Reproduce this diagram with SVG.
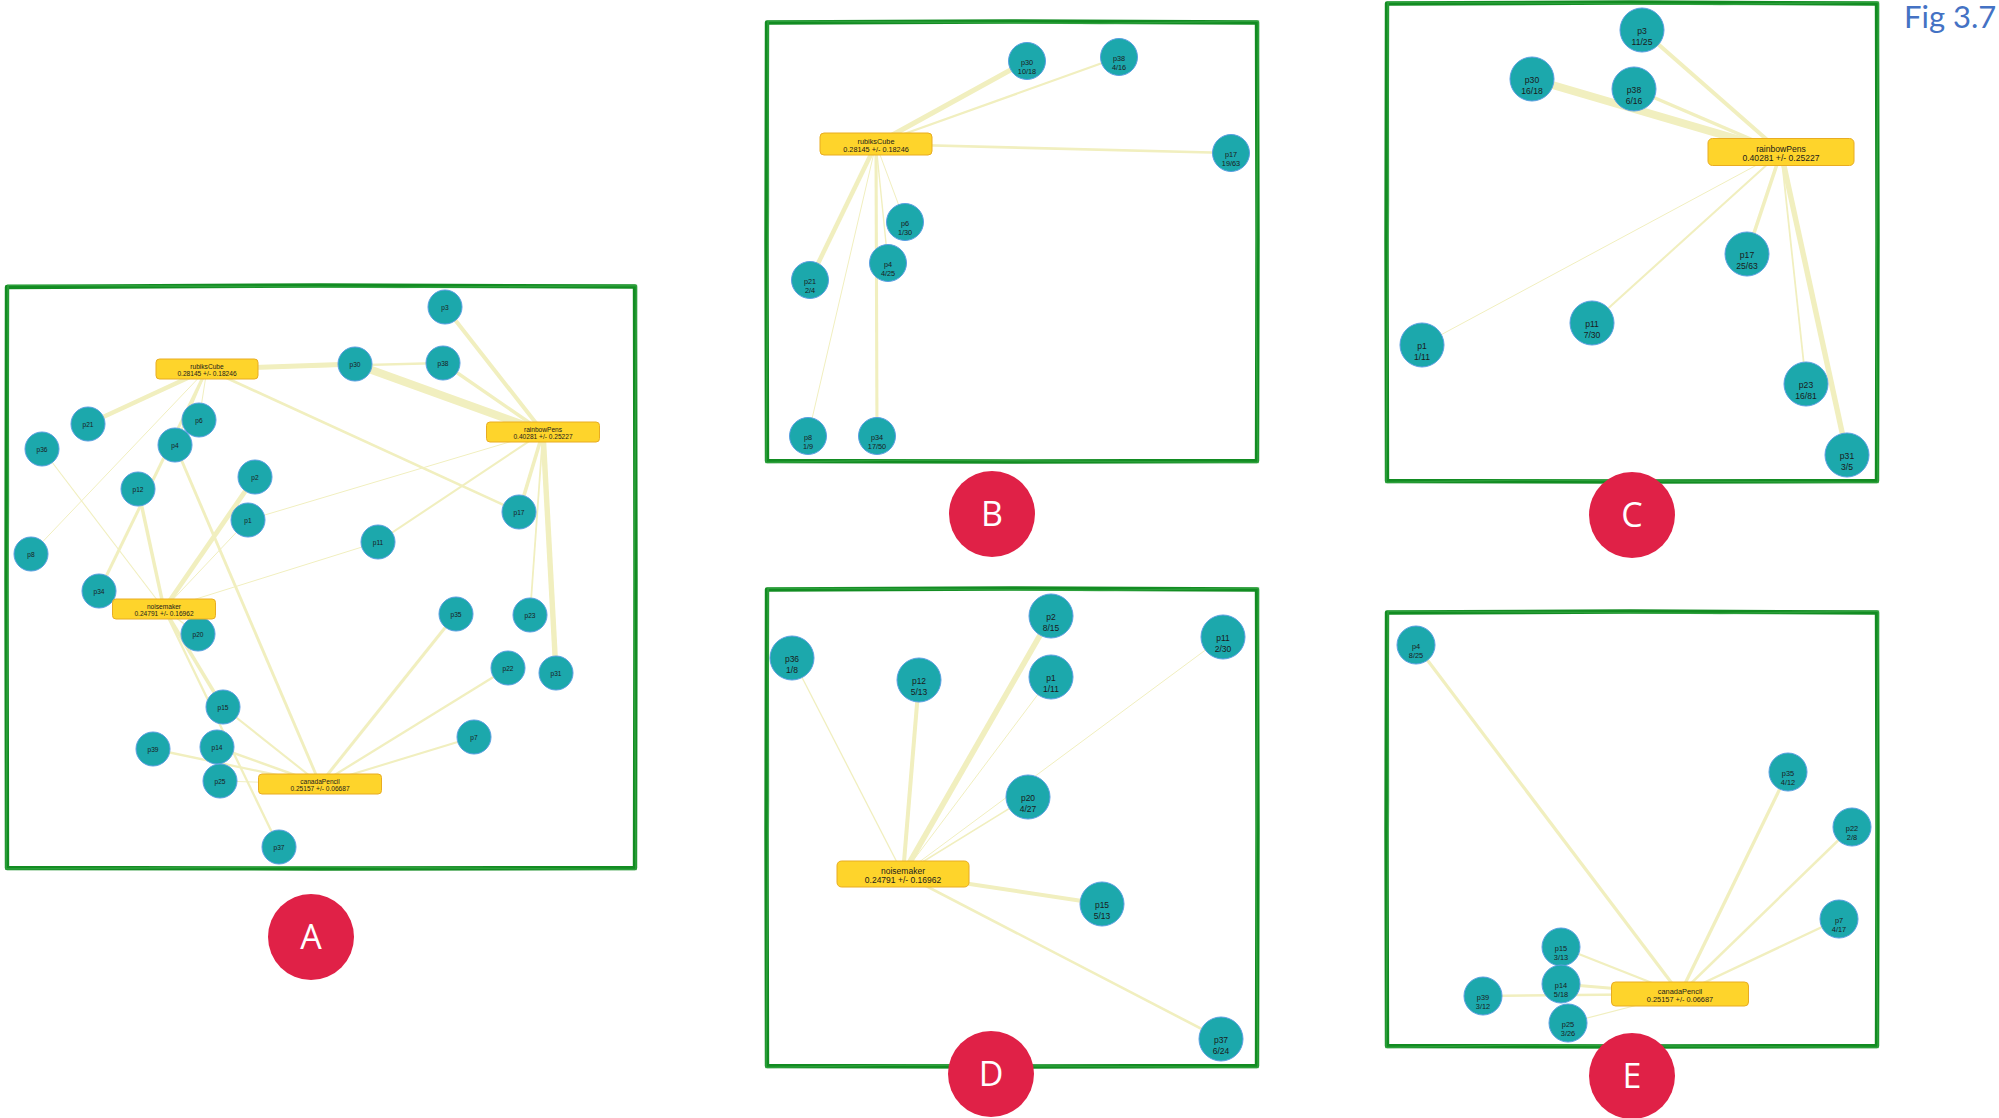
<svg xmlns="http://www.w3.org/2000/svg" width="1999" height="1118" viewBox="0 0 1999 1118">
<style>
.bg{fill:#ffffff}
.edge line{stroke:#F1EFBF;stroke-linecap:butt;fill:none}
.node circle{fill:#1CA8AC;stroke:#5A9FE2;stroke-width:1}
.task rect{fill:#FED42B;stroke:#E8AC22;stroke-width:1}
text{font-family:"Liberation Sans",Arial,sans-serif;fill:#1b1b1b;text-anchor:middle}
.frame path.m{fill:none;stroke:#128C22;stroke-width:4.4;stroke-linejoin:round}
.frame path.s{fill:none;stroke:#3FAE4E;stroke-width:1.6;opacity:0.55}
.badge circle{fill:#E02147}
.badge text{font-family:"Open Sans","Liberation Sans",sans-serif;fill:#ffffff;font-size:34px}
.fig{font-family:Lato,"Open Sans",sans-serif;fill:#4472C4;font-size:31px;text-anchor:start}
.fA{font-size:6.6px}.fB{font-size:7.3px}.fC{font-size:8.6px}.fD{font-size:8.5px}.fE{font-size:7.4px}
</style>
<rect class="bg" x="0" y="0" width="1999" height="1118"/>

<!-- frames -->
<g id="frames" class="frame">
<g id="frame-A"><path class="m" d="M7,287 L320,285.5 L635,286.5 L635.5,580 L635,868 L320,868.5 L7,868 L6.5,580 Z"/><path class="s" d="M8,285 L400,287.5 L636.5,285.5 L634,600 L636,869.5 L300,866.8 L6,869 L8.5,500 Z"/></g>
<g id="frame-B"><path class="m" d="M767,22.5 L1010,21.5 L1257,22.5 L1257.5,240 L1257,461 L1010,461.5 L767,461 L766.5,240 Z"/><path class="s" d="M768,21 L1100,23.5 L1258.5,21 L1256,300 L1258,462.5 L900,460 L766,462.5 L768.5,200 Z"/></g>
<g id="frame-C"><path class="m" d="M1387,3.5 L1630,2.5 L1877,3.5 L1877.5,240 L1877,481 L1630,481.5 L1387,481 L1386.5,240 Z"/><path class="s" d="M1388,2 L1720,4.5 L1878.5,2 L1876,300 L1878,482.5 L1520,480 L1386,482.5 L1388.5,200 Z"/></g>
<g id="frame-D"><path class="m" d="M767,589.5 L1010,588.5 L1257,589.5 L1257.5,830 L1257,1066 L1010,1066.5 L767,1066 L766.5,830 Z"/><path class="s" d="M768,588 L1100,590.5 L1258.5,588 L1256,880 L1258,1067.5 L900,1065 L766,1067.5 L768.5,800 Z"/></g>
<g id="frame-E"><path class="m" d="M1387,612.5 L1630,611.5 L1877,612.5 L1877.5,830 L1877,1046 L1630,1046.5 L1387,1046 L1386.5,830 Z"/><path class="s" d="M1388,611 L1720,613.5 L1878.5,611 L1876,880 L1878,1047.5 L1520,1045 L1386,1047.5 L1388.5,800 Z"/></g>
</g>

<!-- connectors -->
<g id="connectors" class="edge">
<g id="edges-A">
<line x1="207" y1="369" x2="355" y2="364" stroke-width="5"/>
<line x1="207" y1="369" x2="443" y2="363" stroke-width="2.3"/>
<line x1="207" y1="369" x2="519" y2="512" stroke-width="2.7"/>
<line x1="207" y1="369" x2="199" y2="420" stroke-width="1"/>
<line x1="207" y1="369" x2="175" y2="445" stroke-width="1.4"/>
<line x1="207" y1="369" x2="88" y2="424" stroke-width="4.5"/>
<line x1="207" y1="369" x2="31" y2="554" stroke-width="1"/>
<line x1="207" y1="369" x2="99" y2="591" stroke-width="3"/>
<line x1="543" y1="432" x2="445" y2="307" stroke-width="4"/>
<line x1="543" y1="432" x2="355" y2="364" stroke-width="8"/>
<line x1="543" y1="432" x2="443" y2="363" stroke-width="3.4"/>
<line x1="543" y1="432" x2="519" y2="512" stroke-width="3.6"/>
<line x1="543" y1="432" x2="378" y2="542" stroke-width="2.1"/>
<line x1="543" y1="432" x2="248" y2="520" stroke-width="1"/>
<line x1="543" y1="432" x2="530" y2="615" stroke-width="1.8"/>
<line x1="543" y1="432" x2="556" y2="673" stroke-width="5.4"/>
<line x1="164" y1="609" x2="42" y2="449" stroke-width="1.1"/>
<line x1="164" y1="609" x2="138" y2="489" stroke-width="3.5"/>
<line x1="164" y1="609" x2="255" y2="477" stroke-width="4.8"/>
<line x1="164" y1="609" x2="248" y2="520" stroke-width="1"/>
<line x1="164" y1="609" x2="378" y2="542" stroke-width="1"/>
<line x1="164" y1="609" x2="198" y2="634" stroke-width="1.3"/>
<line x1="164" y1="609" x2="223" y2="707" stroke-width="3.5"/>
<line x1="164" y1="609" x2="279" y2="847" stroke-width="2.3"/>
<line x1="320" y1="784" x2="175" y2="445" stroke-width="2.9"/>
<line x1="320" y1="784" x2="456" y2="614" stroke-width="3"/>
<line x1="320" y1="784" x2="508" y2="668" stroke-width="2.3"/>
<line x1="320" y1="784" x2="474" y2="737" stroke-width="2.1"/>
<line x1="320" y1="784" x2="223" y2="707" stroke-width="2.1"/>
<line x1="320" y1="784" x2="217" y2="747" stroke-width="2.5"/>
<line x1="320" y1="784" x2="153" y2="749" stroke-width="2.3"/>
<line x1="320" y1="784" x2="220" y2="781" stroke-width="1"/>
</g>
<g id="edges-B">
<line x1="876" y1="144" x2="1027" y2="61" stroke-width="5"/>
<line x1="876" y1="144" x2="1119" y2="57" stroke-width="2.3"/>
<line x1="876" y1="144" x2="1231" y2="153" stroke-width="2.7"/>
<line x1="876" y1="144" x2="905" y2="222" stroke-width="1"/>
<line x1="876" y1="144" x2="888" y2="263" stroke-width="1.4"/>
<line x1="876" y1="144" x2="810" y2="280" stroke-width="4.5"/>
<line x1="876" y1="144" x2="808" y2="436" stroke-width="1"/>
<line x1="876" y1="144" x2="877" y2="436" stroke-width="3.1"/>
</g>
<g id="edges-C">
<line x1="1781" y1="152" x2="1642" y2="30" stroke-width="4"/>
<line x1="1781" y1="152" x2="1532" y2="79" stroke-width="8"/>
<line x1="1781" y1="152" x2="1634" y2="89" stroke-width="3.4"/>
<line x1="1781" y1="152" x2="1747" y2="254" stroke-width="3.6"/>
<line x1="1781" y1="152" x2="1592" y2="323" stroke-width="2.1"/>
<line x1="1781" y1="152" x2="1422" y2="345" stroke-width="1"/>
<line x1="1781" y1="152" x2="1806" y2="384" stroke-width="1.8"/>
<line x1="1781" y1="152" x2="1847" y2="455" stroke-width="5.4"/>
</g>
<g id="edges-D">
<line x1="903" y1="874" x2="792" y2="658" stroke-width="1.3"/>
<line x1="903" y1="874" x2="919" y2="680" stroke-width="4"/>
<line x1="903" y1="874" x2="1051" y2="616" stroke-width="5.6"/>
<line x1="903" y1="874" x2="1051" y2="677" stroke-width="1"/>
<line x1="903" y1="874" x2="1223" y2="637" stroke-width="1"/>
<line x1="903" y1="874" x2="1028" y2="797" stroke-width="1.6"/>
<line x1="903" y1="874" x2="1102" y2="904" stroke-width="4"/>
<line x1="903" y1="874" x2="1221" y2="1039" stroke-width="2.6"/>
</g>
<g id="edges-E">
<line x1="1680" y1="994" x2="1416" y2="645" stroke-width="3.2"/>
<line x1="1680" y1="994" x2="1788" y2="772" stroke-width="3.3"/>
<line x1="1680" y1="994" x2="1852" y2="827" stroke-width="2.5"/>
<line x1="1680" y1="994" x2="1839" y2="919" stroke-width="2.4"/>
<line x1="1680" y1="994" x2="1561" y2="947" stroke-width="2.3"/>
<line x1="1680" y1="994" x2="1561" y2="984" stroke-width="2.8"/>
<line x1="1680" y1="994" x2="1483" y2="996" stroke-width="2.5"/>
<line x1="1680" y1="994" x2="1568" y2="1023" stroke-width="1.2"/>
</g>
</g>

<!-- Panel A nodes -->
<g id="panel-A" class="fA">
<g id="A-p3" class="node"><circle cx="445" cy="307" r="17"/><text x="445" y="310.3">p3</text></g>
<g id="A-p30" class="node"><circle cx="355" cy="364" r="17"/><text x="355" y="367.3">p30</text></g>
<g id="A-p38" class="node"><circle cx="443" cy="363" r="17"/><text x="443" y="366.3">p38</text></g>
<g id="A-p21" class="node"><circle cx="88" cy="424" r="17"/><text x="88" y="427.3">p21</text></g>
<g id="A-p6" class="node"><circle cx="199" cy="420" r="17"/><text x="199" y="423.3">p6</text></g>
<g id="A-p36" class="node"><circle cx="42" cy="449" r="17"/><text x="42" y="452.3">p36</text></g>
<g id="A-p4" class="node"><circle cx="175" cy="445" r="17"/><text x="175" y="448.3">p4</text></g>
<g id="A-p2" class="node"><circle cx="255" cy="477" r="17"/><text x="255" y="480.3">p2</text></g>
<g id="A-p12" class="node"><circle cx="138" cy="489" r="17"/><text x="138" y="492.3">p12</text></g>
<g id="A-p1" class="node"><circle cx="248" cy="520" r="17"/><text x="248" y="523.3">p1</text></g>
<g id="A-p17" class="node"><circle cx="519" cy="512" r="17"/><text x="519" y="515.3">p17</text></g>
<g id="A-p11" class="node"><circle cx="378" cy="542" r="17"/><text x="378" y="545.3">p11</text></g>
<g id="A-p8" class="node"><circle cx="31" cy="554" r="17"/><text x="31" y="557.3">p8</text></g>
<g id="A-p34" class="node"><circle cx="99" cy="591" r="17"/><text x="99" y="594.3">p34</text></g>
<g id="A-p20" class="node"><circle cx="198" cy="634" r="17"/><text x="198" y="637.3">p20</text></g>
<g id="A-p35" class="node"><circle cx="456" cy="614" r="17"/><text x="456" y="617.3">p35</text></g>
<g id="A-p23" class="node"><circle cx="530" cy="615" r="17"/><text x="530" y="618.3">p23</text></g>
<g id="A-p22" class="node"><circle cx="508" cy="668" r="17"/><text x="508" y="671.3">p22</text></g>
<g id="A-p31" class="node"><circle cx="556" cy="673" r="17"/><text x="556" y="676.3">p31</text></g>
<g id="A-p15" class="node"><circle cx="223" cy="707" r="17"/><text x="223" y="710.3">p15</text></g>
<g id="A-p14" class="node"><circle cx="217" cy="747" r="17"/><text x="217" y="750.3">p14</text></g>
<g id="A-p39" class="node"><circle cx="153" cy="749" r="17"/><text x="153" y="752.3">p39</text></g>
<g id="A-p7" class="node"><circle cx="474" cy="737" r="17"/><text x="474" y="740.3">p7</text></g>
<g id="A-p25" class="node"><circle cx="220" cy="781" r="17"/><text x="220" y="784.3">p25</text></g>
<g id="A-p37" class="node"><circle cx="279" cy="847" r="17"/><text x="279" y="850.3">p37</text></g>
<g id="A-rubiksCube" class="task"><rect x="156" y="359" width="102" height="20" rx="3.5"/><text x="207" y="369.3">rubiksCube</text><text x="207" y="375.9">0.28145 +/- 0.18246</text></g>
<g id="A-rainbowPens" class="task"><rect x="486.5" y="422" width="113" height="20" rx="3.5"/><text x="543" y="432.3">rainbowPens</text><text x="543" y="438.9">0.40281 +/- 0.25227</text></g>
<g id="A-noisemaker" class="task"><rect x="112.5" y="599" width="103" height="20" rx="3.5"/><text x="164" y="609.3">noisemaker</text><text x="164" y="615.9">0.24791 +/- 0.16962</text></g>
<g id="A-canadaPencil" class="task"><rect x="258.5" y="774" width="123" height="20" rx="3.5"/><text x="320" y="784.3">canadaPencil</text><text x="320" y="790.9">0.25157 +/- 0.06687</text></g>
</g>

<!-- Panel B nodes -->
<g id="panel-B" class="fB">
<g id="B-p30" class="node"><circle cx="1027" cy="61" r="18.5"/><text x="1027" y="64.6">p30</text><text x="1027" y="74.1">10/18</text></g>
<g id="B-p38" class="node"><circle cx="1119" cy="57" r="18.5"/><text x="1119" y="60.6">p38</text><text x="1119" y="70.1">4/16</text></g>
<g id="B-p17" class="node"><circle cx="1231" cy="153" r="18.5"/><text x="1231" y="156.6">p17</text><text x="1231" y="166.1">19/63</text></g>
<g id="B-p6" class="node"><circle cx="905" cy="222" r="18.5"/><text x="905" y="225.6">p6</text><text x="905" y="235.1">1/30</text></g>
<g id="B-p4" class="node"><circle cx="888" cy="263" r="18.5"/><text x="888" y="266.6">p4</text><text x="888" y="276.1">4/25</text></g>
<g id="B-p21" class="node"><circle cx="810" cy="280" r="18.5"/><text x="810" y="283.6">p21</text><text x="810" y="293.1">2/4</text></g>
<g id="B-p8" class="node"><circle cx="808" cy="436" r="18.5"/><text x="808" y="439.6">p8</text><text x="808" y="449.1">1/9</text></g>
<g id="B-p34" class="node"><circle cx="877" cy="436" r="18.5"/><text x="877" y="439.6">p34</text><text x="877" y="449.1">17/50</text></g>
<g id="B-rubiksCube" class="task"><rect x="820" y="133" width="112" height="22" rx="4"/><text x="876" y="144.4">rubiksCube</text><text x="876" y="151.7">0.28145 +/- 0.18246</text></g>
</g>

<!-- Panel C nodes -->
<g id="panel-C" class="fC">
<g id="C-p3" class="node"><circle cx="1642" cy="30" r="22"/><text x="1642" y="34">p3</text><text x="1642" y="45.2">11/25</text></g>
<g id="C-p30" class="node"><circle cx="1532" cy="79" r="22"/><text x="1532" y="83">p30</text><text x="1532" y="94.2">16/18</text></g>
<g id="C-p38" class="node"><circle cx="1634" cy="89" r="22"/><text x="1634" y="93">p38</text><text x="1634" y="104.2">6/16</text></g>
<g id="C-p17" class="node"><circle cx="1747" cy="254" r="22"/><text x="1747" y="258">p17</text><text x="1747" y="269.2">25/63</text></g>
<g id="C-p11" class="node"><circle cx="1592" cy="323" r="22"/><text x="1592" y="327">p11</text><text x="1592" y="338.2">7/30</text></g>
<g id="C-p1" class="node"><circle cx="1422" cy="345" r="22"/><text x="1422" y="349">p1</text><text x="1422" y="360.2">1/11</text></g>
<g id="C-p23" class="node"><circle cx="1806" cy="384" r="22"/><text x="1806" y="388">p23</text><text x="1806" y="399.2">16/81</text></g>
<g id="C-p31" class="node"><circle cx="1847" cy="455" r="22"/><text x="1847" y="459">p31</text><text x="1847" y="470.2">3/5</text></g>
<g id="C-rainbowPens" class="task"><rect x="1708" y="138.5" width="146" height="27" rx="4.5"/><text x="1781" y="152.4">rainbowPens</text><text x="1781" y="161">0.40281 +/- 0.25227</text></g>
</g>

<!-- Panel D nodes -->
<g id="panel-D" class="fD">
<g id="D-p36" class="node"><circle cx="792" cy="658" r="22"/><text x="792" y="662">p36</text><text x="792" y="673">1/8</text></g>
<g id="D-p12" class="node"><circle cx="919" cy="680" r="22"/><text x="919" y="684">p12</text><text x="919" y="695">5/13</text></g>
<g id="D-p2" class="node"><circle cx="1051" cy="616" r="22"/><text x="1051" y="620">p2</text><text x="1051" y="631">8/15</text></g>
<g id="D-p1" class="node"><circle cx="1051" cy="677" r="22"/><text x="1051" y="681">p1</text><text x="1051" y="692">1/11</text></g>
<g id="D-p11" class="node"><circle cx="1223" cy="637" r="22"/><text x="1223" y="641">p11</text><text x="1223" y="652">2/30</text></g>
<g id="D-p20" class="node"><circle cx="1028" cy="797" r="22"/><text x="1028" y="801">p20</text><text x="1028" y="812">4/27</text></g>
<g id="D-p15" class="node"><circle cx="1102" cy="904" r="22"/><text x="1102" y="908">p15</text><text x="1102" y="919">5/13</text></g>
<g id="D-p37" class="node"><circle cx="1221" cy="1039" r="22"/><text x="1221" y="1043">p37</text><text x="1221" y="1054">6/24</text></g>
<g id="D-noisemaker" class="task"><rect x="837" y="861" width="132" height="26" rx="4.5"/><text x="903" y="874.4">noisemaker</text><text x="903" y="882.9">0.24791 +/- 0.16962</text></g>
</g>

<!-- Panel E nodes -->
<g id="panel-E" class="fE">
<g id="E-p4" class="node"><circle cx="1416" cy="645" r="19"/><text x="1416" y="648.6">p4</text><text x="1416" y="658.2">8/25</text></g>
<g id="E-p35" class="node"><circle cx="1788" cy="772" r="19"/><text x="1788" y="775.6">p35</text><text x="1788" y="785.2">4/12</text></g>
<g id="E-p22" class="node"><circle cx="1852" cy="827" r="19"/><text x="1852" y="830.6">p22</text><text x="1852" y="840.2">2/8</text></g>
<g id="E-p7" class="node"><circle cx="1839" cy="919" r="19"/><text x="1839" y="922.6">p7</text><text x="1839" y="932.2">4/17</text></g>
<g id="E-p15" class="node"><circle cx="1561" cy="947" r="19"/><text x="1561" y="950.6">p15</text><text x="1561" y="960.2">3/13</text></g>
<g id="E-p14" class="node"><circle cx="1561" cy="984" r="19"/><text x="1561" y="987.6">p14</text><text x="1561" y="997.2">5/18</text></g>
<g id="E-p39" class="node"><circle cx="1483" cy="996" r="19"/><text x="1483" y="999.6">p39</text><text x="1483" y="1009.2">3/12</text></g>
<g id="E-p25" class="node"><circle cx="1568" cy="1023" r="19"/><text x="1568" y="1026.6">p25</text><text x="1568" y="1036.2">3/26</text></g>
<g id="E-canadaPencil" class="task"><rect x="1611.5" y="982" width="137" height="24" rx="4"/><text x="1680" y="994.4">canadaPencil</text><text x="1680" y="1001.8">0.25157 +/- 0.06687</text></g>
</g>

<!-- badges -->
<g id="badge-A" class="badge"><circle cx="311" cy="937" r="43"/><text x="311" y="949">A</text></g>
<g id="badge-B" class="badge"><circle cx="992" cy="514" r="43"/><text x="992" y="526">B</text></g>
<g id="badge-C" class="badge"><circle cx="1632" cy="515" r="43"/><text x="1632" y="527">C</text></g>
<g id="badge-D" class="badge"><circle cx="991" cy="1074" r="43"/><text x="991" y="1086">D</text></g>
<g id="badge-E" class="badge"><circle cx="1632" cy="1076" r="43"/><text x="1632" y="1088">E</text></g>

<text class="fig" x="1904" y="28">Fig 3.7</text>
</svg>
